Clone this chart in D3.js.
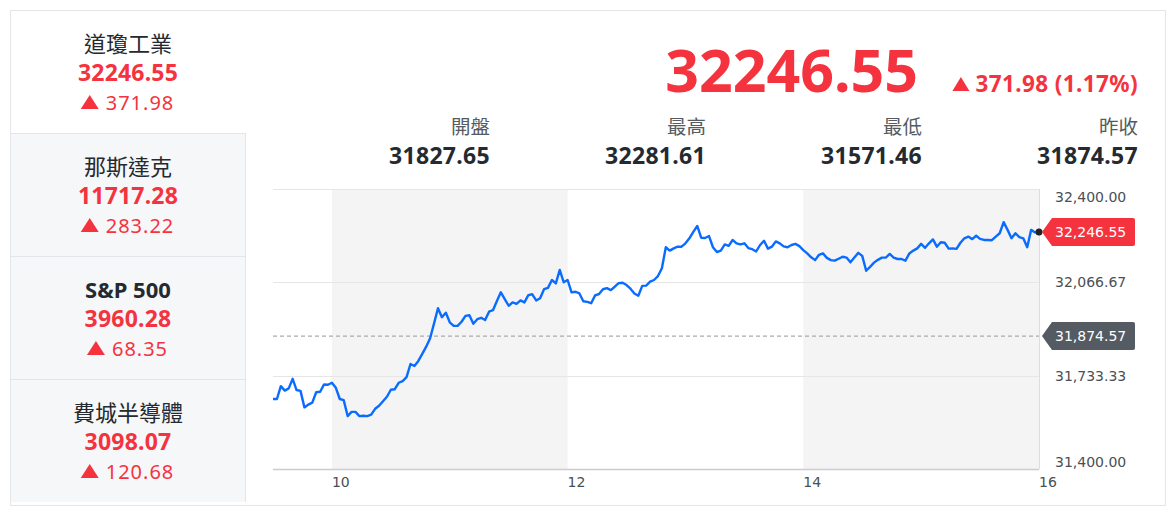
<!DOCTYPE html>
<html>
<head>
<meta charset="utf-8">
<script src="https://cdn.jsdelivr.net/npm/d3@7"></script>
<style>
  html, body { margin: 0; padding: 0; background: #fff; }
  svg { display: block; font-family: "Noto Sans", "Noto Sans CJK TC", sans-serif; }
</style>
</head>
<body>
<svg id="chart" width="1174" height="512"></svg>
<script>
// ---------------- data ----------------
const indexNames = ["道瓊工業", "那斯達克", "S&P 500", "費城半導體"];
const indexValues = ["32246.55", "11717.28", "3960.28", "3098.07"];
const indexChanges = ["371.98", "283.22", "68.35", "120.68"];

const lastPrice = "32246.55";
const lastChange = "371.98 (1.17%)";
const statLabels = ["開盤", "最高", "最低", "昨收"];
const statValues = ["31827.65", "32281.61", "31571.46", "31874.57"];

const prevClose = 31874.57;
const lastValue = 32246.55;
const yTicks = [31400.00, 31733.33, 32066.67, 32400.00];
const xTicks = [10, 12, 14, 16];
const shadedHours = [[10, 12], [14, 16]];

// intraday prices, every 2 minutes from 09:30 to 16:00
const startHour = 9.5;
const stepMinutes = 2;
const prices = [
  31650, 31650, 31696, 31680, 31688, 31722, 31682, 31679, 31620, 31630,
  31637, 31674, 31676, 31702, 31701, 31708, 31690, 31650, 31646, 31589,
  31604, 31604, 31589, 31590, 31589, 31594, 31615, 31626, 31642, 31658,
  31683, 31685, 31708, 31714, 31728, 31775, 31768, 31786, 31811, 31837,
  31867, 31920, 31974, 31942, 31958, 31924, 31911, 31911, 31926, 31947,
  31949, 31919, 31935, 31940, 31932, 31962, 31967, 32000, 32031, 32007,
  31983, 31995, 31990, 32002, 31995, 32021, 32024, 32002, 32010, 32042,
  32047, 32075, 32063, 32111, 32067, 32075, 32031, 32033, 32027, 31999,
  31997, 31992, 32020, 32025, 32042, 32046, 32039, 32051, 32064, 32065,
  32057, 32044, 32027, 32019, 32054, 32055, 32069, 32075, 32089, 32117,
  32192, 32180, 32188, 32194, 32194, 32206, 32224, 32247, 32268, 32226,
  32225, 32232, 32192, 32175, 32180, 32202, 32197, 32218, 32206, 32202,
  32206, 32189, 32185, 32177, 32200, 32215, 32187, 32194, 32213, 32206,
  32195, 32192, 32200, 32204, 32196, 32182, 32170, 32156, 32146, 32165,
  32170, 32154, 32146, 32144, 32151, 32158, 32155, 32138, 32155, 32172,
  32161, 32108, 32122, 32137, 32147, 32155, 32155, 32168, 32155, 32150,
  32150, 32144, 32170, 32180, 32188, 32204, 32190, 32206, 32220, 32194,
  32210, 32208, 32187, 32188, 32186, 32208, 32224, 32230, 32221, 32233,
  32222, 32218, 32218, 32217, 32230, 32242, 32281.61, 32254, 32224, 32242,
  32228, 32224, 32192, 32254, 32245, 32246.55
];

// ---------------- drawing ----------------
const RED = "#f5333f";
const DARK = "#252a30";
const svg = d3.select("#chart");

// outer card
svg.append("rect").attr("x", 10.5).attr("y", 10.5).attr("width", 1155).attr("height", 495)
  .attr("fill", "#fff").attr("stroke", "#e4e6e9");

// left panel
const secTop = [10, 133, 256, 379];
const secH = 123;
const panelL = 11, panelR = 245, cx = 128;
secTop.forEach((t, i) => {
  const g = svg.append("g");
  if (i > 0) {
    g.append("rect").attr("x", panelL).attr("y", t).attr("width", panelR - panelL).attr("height", secH)
      .attr("fill", "#f6f7f9");
    g.append("line").attr("x1", panelL).attr("x2", panelR).attr("y1", t + 0.5).attr("y2", t + 0.5)
      .attr("stroke", "#e3e5e8");
    g.append("line").attr("x1", panelR + 0.5).attr("x2", panelR + 0.5).attr("y1", t).attr("y2", t + secH)
      .attr("stroke", "#e3e5e8");
  }
  g.append("text").attr("x", cx).attr("y", t + 42).attr("text-anchor", "middle")
    .attr("font-size", 22).attr("fill", DARK)
    .attr("font-weight", indexNames[i].match(/[A-Za-z]/) ? 700 : 400)
    .text(indexNames[i]);
  g.append("text").attr("x", cx).attr("y", t + 71).attr("text-anchor", "middle")
    .attr("font-size", 23).attr("letter-spacing", 0.2).attr("font-weight", 700).attr("fill", RED).text(indexValues[i]);
  // change with triangle
  const ch = g.append("text").attr("x", cx + 12).attr("y", t + 99.5).attr("text-anchor", "middle")
    .attr("font-size", 20).attr("letter-spacing", 1.0).attr("fill", RED).text(indexChanges[i]);
  const w = ch.node().getComputedTextLength();
  const tx = cx + 12 - w / 2 - 7;
  g.append("path").attr("d", `M${tx - 18},${t + 99} L${tx},${t + 99} L${tx - 9},${t + 85} Z`).attr("fill", RED);
});

// header: big price
svg.append("text").attr("x", 918).attr("y", 92).attr("text-anchor", "end")
  .attr("font-size", 59).attr("font-weight", 700).attr("fill", RED).text(lastPrice);
const chg = svg.append("text").attr("x", 1138).attr("y", 92).attr("text-anchor", "end")
  .attr("font-size", 22.5).attr("letter-spacing", 0.4).attr("font-weight", 700).attr("fill", RED).text(lastChange);
{
  const w = chg.node().getComputedTextLength();
  const tx = 1138 - w - 6;
  svg.append("path").attr("d", `M${tx - 17},${91} L${tx},${91} L${tx - 8.5},${77} Z`).attr("fill", RED);
}

// stats row
const statRight = [490, 706, 922, 1138];
statLabels.forEach((l, i) => {
  svg.append("text").attr("x", statRight[i]).attr("y", 134).attr("text-anchor", "end")
    .attr("font-size", 19.5).attr("fill", "#555b61").text(l);
  svg.append("text").attr("x", statRight[i]).attr("y", 164).attr("text-anchor", "end")
    .attr("font-size", 23).attr("letter-spacing", 0.3).attr("font-weight", 700).attr("fill", DARK).text(statValues[i]);
});

// chart
const x = d3.scaleLinear().domain([startHour, 16]).range([273, 1039]);
const y = d3.scaleLinear().domain([31400, 32400]).range([469, 189]);
const data = prices.map((v, i) => ({ h: startHour + i * stepMinutes / 60, v }));

const chart = svg.append("g");
shadedHours.forEach(([a, b]) => {
  chart.append("rect").attr("x", x(a)).attr("y", y(32400)).attr("width", x(b) - x(a))
    .attr("height", y(31400) - y(32400)).attr("fill", "#f4f4f4");
});

// horizontal grid
chart.selectAll(".grid").data(yTicks.slice(1)).join("line")
  .attr("x1", x(startHour)).attr("x2", x(16))
  .attr("y1", d => Math.round(y(d)) + 0.5).attr("y2", d => Math.round(y(d)) + 0.5)
  .attr("stroke", "#e6e6e6").attr("stroke-width", 1.2);

// right edge line
chart.append("line").attr("x1", x(16) + 0.5).attr("x2", x(16) + 0.5).attr("y1", y(32400)).attr("y2", y(31400))
  .attr("stroke", "#dcdde6");
// bottom axis line
chart.append("line").attr("x1", x(startHour)).attr("x2", x(16)).attr("y1", y(31400) + 0.5).attr("y2", y(31400) + 0.5)
  .attr("stroke", "#c9ccd3").attr("stroke-width", 1.5);

// previous close dashed line
chart.append("line").attr("x1", x(startHour)).attr("x2", x(16))
  .attr("y1", y(prevClose)).attr("y2", y(prevClose))
  .attr("stroke", "#aaaaaa").attr("stroke-width", 1.3).attr("stroke-dasharray", "4,3");

// price line
chart.append("path").datum(data)
  .attr("d", d3.line().x(d => x(d.h)).y(d => y(d.v)))
  .attr("fill", "none").attr("stroke", "#0a6cff").attr("stroke-width", 2.4)
  .attr("stroke-linejoin", "round");

chart.append("circle").attr("cx", x(16)).attr("cy", y(lastValue)).attr("r", 3.5).attr("fill", "#222");

// y axis labels
const fmt = d3.format(",.2f");
yTicks.forEach((t, i) => {
  let cy = y(t);
  if (i === 0) cy -= 7; if (i === yTicks.length - 1) cy += 8;
  chart.append("text").attr("x", 1055).attr("y", cy).attr("dy", "0.35em")
    .attr("font-family", "DejaVu Sans").attr("font-size", 14).attr("fill", "#4a4f55").text(fmt(t));
});

// x axis labels
xTicks.forEach(t => {
  chart.append("text").attr("x", x(t)).attr("y", 487).attr("font-family", "DejaVu Sans")
    .attr("font-size", 14).attr("fill", "#4a4f55").text(t);
});

// tags
function tag(val, color) {
  const cy = y(val), x0 = 1042, x1 = 1052, x2 = 1135, h = 28;
  chart.append("path")
    .attr("d", `M${x0},${cy} L${x1},${cy - h / 2} L${x2 - 2},${cy - h / 2} Q${x2},${cy - h / 2} ${x2},${cy - h / 2 + 2}
      L${x2},${cy + h / 2 - 2} Q${x2},${cy + h / 2} ${x2 - 2},${cy + h / 2} L${x1},${cy + h / 2} Z`)
    .attr("fill", color);
  chart.append("text").attr("x", 1055).attr("y", cy).attr("dy", "0.36em")
    .attr("font-family", "DejaVu Sans").attr("font-size", 14).attr("fill", "#fff").text(fmt(val));
}
tag(lastValue, RED);
tag(prevClose, "#545b63");
</script>
</body>
</html>
